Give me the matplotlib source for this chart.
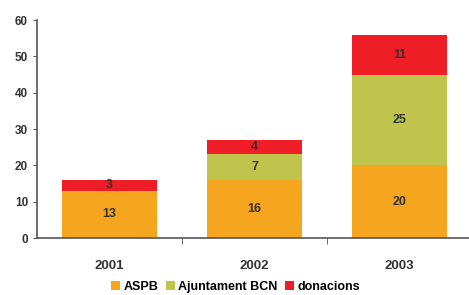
import matplotlib.pyplot as plt
import numpy as np

years = ["2001", "2002", "2003"]
aspb = [13, 16, 20]
ajuntament = [0, 7, 25]
donacions = [3, 4, 11]

plt.rcParams['font.family'] = ['Liberation Sans', 'DejaVu Sans']
plt.rcParams['font.weight'] = 'bold'

fig = plt.figure(figsize=(4.69, 2.95), dpi=100)
ax = fig.add_axes([0.079, 0.193, 0.921, 0.739])

x = np.arange(len(years))
w = 0.655
cols = ['#F5A51E', '#BFC54C', '#EE1D26']
ax.bar(x, aspb, w, color=cols[0], label='ASPB')
ax.bar(x, ajuntament, w, bottom=aspb, color=cols[1], label='Ajuntament BCN')
bottom2 = [a + b for a, b in zip(aspb, ajuntament)]
ax.bar(x, donacions, w, bottom=bottom2, color=cols[2], label='donacions')

# valors dins de cada tram
for i in range(len(years)):
    ax.text(x[i], aspb[i] / 2, str(aspb[i]), ha='center', va='center', fontsize=9, color='#333333', fontweight='bold')
    if ajuntament[i]:
        ax.text(x[i], aspb[i] + ajuntament[i] / 2, str(ajuntament[i]), ha='center', va='center', fontsize=9, color='#333333', fontweight='bold')
    ax.text(x[i], bottom2[i] + donacions[i] / 2, str(donacions[i]), ha='center', va='center', fontsize=9, color='#333333', fontweight='bold')

ax.set_xlim(-0.5, 2.48)
ax.set_ylim(0, 60)
ax.set_yticks(range(0, 61, 10))
ax.set_xticks(x)
ax.set_xticklabels(years)
ax.set_xticks([0.5, 1.5], minor=True)
ax.tick_params(axis='x', which='major', length=0, pad=16, labelsize=9.5, colors='#333333')
ax.tick_params(axis='x', which='minor', length=4, color='#555555')
ax.tick_params(axis='y', length=3, labelsize=8.5, colors='#333333', color='#555555')
for s in ['top', 'right']:
    ax.spines[s].set_visible(False)
for s in ['left', 'bottom']:
    ax.spines[s].set_color('#555555')
    ax.spines[s].set_linewidth(1.2)

ax.legend(loc='lower center', bbox_to_anchor=(0.46, -0.285), ncol=3, frameon=False,
          fontsize=9, handlelength=0.7, handleheight=0.7, handletextpad=0.3, columnspacing=0.6,
          borderpad=0.1)

fig.savefig('out.png', dpi=100)
